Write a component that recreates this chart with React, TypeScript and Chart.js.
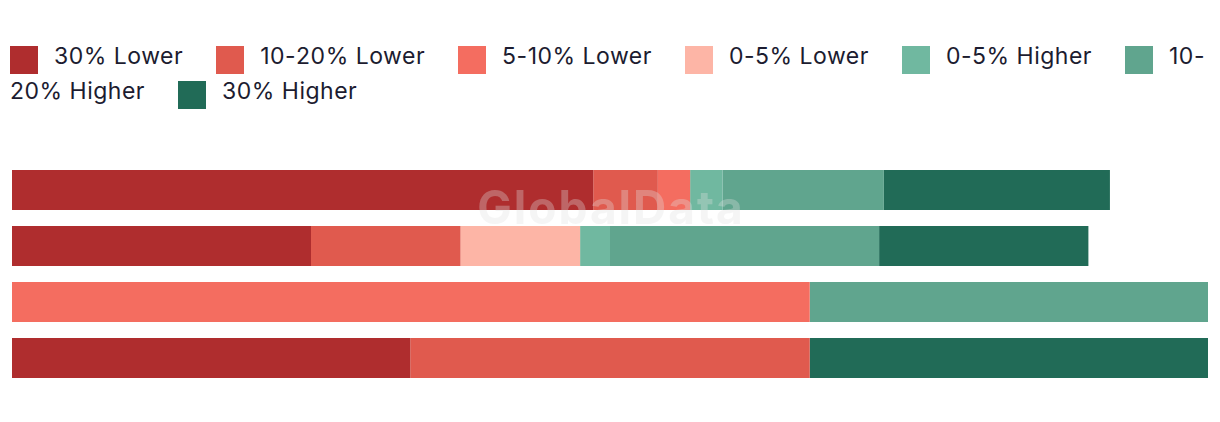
import React, { useEffect, useRef } from "react";
import { Chart, registerables } from "chart.js";

Chart.register(...registerables);

const categories = ["Row 1", "Row 2", "Row 3", "Row 4"];
const seriesNames = [
  "30% Lower",
  "10-20% Lower",
  "5-10% Lower",
  "0-5% Lower",
  "0-5% Higher",
  "10-20% Higher",
  "30% Higher",
];
const seriesColors = [
  "#af2d2e",
  "#e05a4e",
  "#f46d60",
  "#fdb5a6",
  "#70b8a0",
  "#60a58e",
  "#216b57",
];
const lower30 = [48.6, 25, 0, 33.3];
const lower1020 = [5.4, 12.5, 0, 33.4];
const lower510 = [2.7, 0, 66.7, 0];
const lower05 = [0, 10, 0, 0];
const higher05 = [2.7, 2.5, 0, 0];
const higher1020 = [13.5, 22.5, 33.3, 0];
const higher30 = [18.9, 17.5, 0, 33.3];
const seriesValues = [lower30, lower1020, lower510, lower05, higher05, higher1020, higher30];

const FONT = "Inter, 'Noto Sans', sans-serif";

const watermark = {
  id: "watermark",
  afterDatasetsDraw(chart: any) {
    const { ctx, chartArea } = chart;
    ctx.save();
    ctx.font = `bold 46px ${FONT}`;
    try {
      (ctx as any).letterSpacing = "2px";
    } catch (e) {}
    ctx.fillStyle = "rgba(225,225,225,0.32)";
    ctx.textAlign = "center";
    ctx.textBaseline = "middle";
    ctx.fillText("GlobalData", (chartArea.left + chartArea.right) / 2 + 1, chartArea.top + 48);
    ctx.restore();
  },
};

export default function App() {
  const ref = useRef<HTMLCanvasElement | null>(null);
  useEffect(() => {
    if (!ref.current) return;
    const chart = new Chart(ref.current, {
      type: "bar",
      data: {
        labels: categories,
        datasets: seriesNames.map((name, i) => ({
          label: name,
          data: seriesValues[i],
          backgroundColor: seriesColors[i],
          borderWidth: 0,
          categoryPercentage: 1,
          barPercentage: 40 / 56,
        })),
      },
      options: {
        indexAxis: "y",
        animation: false,
        responsive: true,
        maintainAspectRatio: false,
        layout: { padding: { top: 12, bottom: 28, left: 4, right: 4 } },
        scales: {
          x: { stacked: true, min: 0, max: 100, display: false },
          y: { stacked: true, display: false },
        },
        plugins: { legend: { display: false }, tooltip: { enabled: false } },
      },
      plugins: [watermark],
    });
    return () => chart.destroy();
  }, []);

  return (
    <div style={{ width: 1204, fontFamily: FONT }}>
      <div
        style={{
          height: 142,
          boxSizing: "border-box",
          paddingTop: 31,
          paddingLeft: 2,
          fontSize: 23,
          letterSpacing: "0.5px",
          lineHeight: "35px",
          color: "#1c1c30",
        }}
      >
        {seriesNames.map((name, i) => (
          <span key={name} style={{ marginRight: 33 }}>
            <span
              style={{
                display: "inline-block",
                width: 28,
                height: 28,
                background: seriesColors[i],
                verticalAlign: "-10px",
                marginRight: 16,
              }}
            />
            {name.split("-").map((part, j, arr) => (
              <React.Fragment key={j}>
                {part}
                {j < arr.length - 1 ? "-" : ""}
                {j < arr.length - 1 ? <wbr /> : null}
              </React.Fragment>
            ))}
          </span>
        ))}
      </div>
      <div style={{ position: "relative", height: 264 }}>
        <canvas ref={ref} />
      </div>
    </div>
  );
}
